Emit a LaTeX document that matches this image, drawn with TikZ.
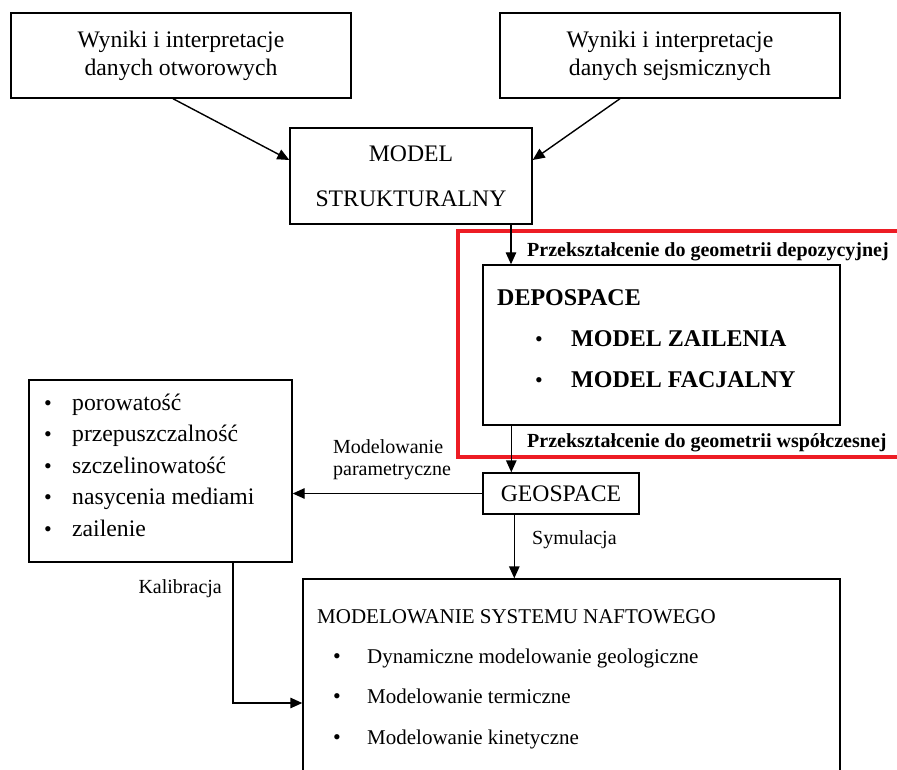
\documentclass[tikz,border=0pt]{standalone}
\usepackage{fontspec}
\setmainfont{Liberation Serif}
\usetikzlibrary{arrows.meta}
\definecolor{redframe}{RGB}{237,28,36}
\begin{document}
\begin{tikzpicture}[x=1pt,y=-1pt,
  box/.style={draw,line width=1.4pt,inner sep=0pt},
  arr/.style={line width=1.4pt,-{Triangle[length=12pt,width=10.5pt]}},
  main/.style={font=\fontsize{23.7}{28}\selectfont},
  big/.style={font=\fontsize{21}{26}\selectfont},
  lbl/.style={font=\fontsize{20}{22}\selectfont},
  blbl/.style={font=\fontsize{20}{22}\selectfont\bfseries},
  bbig/.style={font=\fontsize{24}{28}\selectfont\bfseries},
  txt/.style={inner sep=0pt,anchor=base west},
  bul/.style={inner sep=0pt,anchor=base west,font=\fontsize{22}{22}\selectfont},
]
\clip (0,0) rectangle (897,770);
\fill[white] (0,0) rectangle (897,770);

% top boxes
\node[box,main,align=center,minimum width=340pt,minimum height=85pt] (b1) at (181,55.5) {Wyniki i interpretacje\\danych otworowych};
\node[box,main,align=center,minimum width=340pt,minimum height=85pt] (b2) at (670,55.5) {Wyniki i interpretacje\\danych sejsmicznych};

% model strukturalny
\node[box,font=\fontsize{23.7}{45}\selectfont,align=center,minimum width=242pt,minimum height=96pt] (model) at (411,176) {MODEL\\STRUKTURALNY};

% red frame
\node[draw=redframe,line width=3.5pt,minimum width=450pt,minimum height=226pt,inner sep=0pt] (frame) at (683,344) {};

% depospace
\node[box,minimum width=357pt,minimum height=160pt] (dep) at (661.5,345) {};
\node[txt,bbig] (depT) at (497,305) {DEPOSPACE};
\node[bul] (depB1) at (535,346) {\textbullet};
\node[txt,bbig] (depI1) at (571,346) {MODEL ZAILENIA};
\node[bul] (depB2) at (535,387) {\textbullet};
\node[txt,bbig] (depI2) at (571,387) {MODEL FACJALNY};

\node[txt,blbl] (lab1) at (527,256) {Przekształcenie do geometrii depozycyjnej};
\node[txt,blbl] (lab2) at (527,447) {Przekształcenie do geometrii współczesnej};

% geospace
\node[box,main,minimum width=156pt,minimum height=41pt] (geo) at (561,493.5) {GEOSPACE};

% left box
\node[box,minimum width=263pt,minimum height=182pt] (lb) at (160.5,471) {};
\foreach \t [count=\i] in {porowatość,przepuszczalność,szczelinowatość,nasycenia mediami,zailenie}{
  \node[bul] (lbB\i) at (44,{410+31.5*(\i-1)}) {\textbullet};
  \node[txt,main] (lbI\i) at (72,{410+31.5*(\i-1)}) {\t};
}

% bottom box
\node[box,minimum width=537pt,minimum height=220pt] (bot) at (571.5,689) {};
\node[txt,big] (botT) at (317,623) {MODELOWANIE SYSTEMU NAFTOWEGO};
\node[bul] (botB1) at (333,663) {\textbullet};
\node[txt,big] (botI1) at (367,663) {Dynamiczne modelowanie geologiczne};
\node[bul] (botB2) at (333,703) {\textbullet};
\node[txt,big] (botI2) at (367,703) {Modelowanie termiczne};
\node[bul] (botB3) at (333,744) {\textbullet};
\node[txt,big] (botI3) at (367,744) {Modelowanie kinetyczne};

% labels
\node[txt,lbl] (mp1) at (333,453) {Modelowanie};
\node[txt,lbl] (mp2) at (333,475) {parametryczne};
\node[txt,lbl] (sym) at (532,544) {Symulacja};
\node[txt,lbl,anchor=base east] (kal) at (222,593) {Kalibracja};

% connectors
\draw[arr] ([xshift=-8pt]b1.south) -- ([yshift=16pt]model.west);
\draw[arr] ([xshift=-50pt]b2.south) -- ([yshift=16pt]model.east);
\draw[arr] ([xshift=100pt]model.south) -- ([xshift=100pt]model.south |- dep.north);
\draw[arr] ([xshift=29pt]dep.south west) -- ([xshift=29pt]dep.south west |- geo.north);
\draw[arr] (geo.west) -- (geo.west -| lb.east);
\draw[arr] ([xshift=32pt]geo.south west) -- ([xshift=32pt]geo.south west |- bot.north);
\coordinate (kc) at (233,703);
\draw[arr] (lb.south -| kc) -- (kc) -- (kc -| bot.west);
\end{tikzpicture}
\end{document}
